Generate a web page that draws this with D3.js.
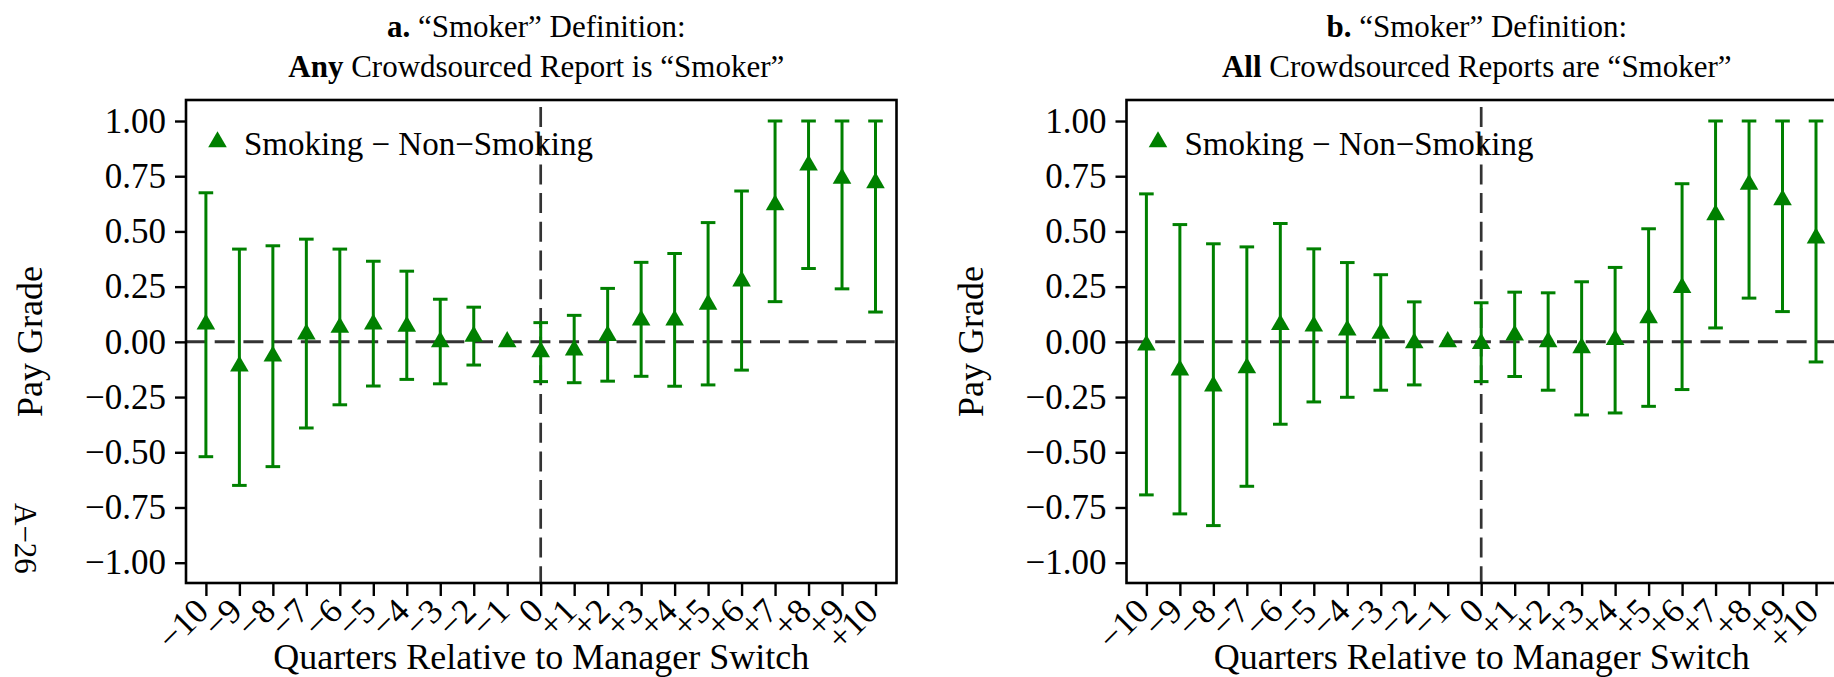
<!DOCTYPE html>
<html>
<head>
<meta charset="utf-8">
<script src="https://cdn.jsdelivr.net/npm/d3@7"></script>
<style>
  html, body { margin: 0; padding: 0; background: #ffffff; }
  svg { display: block; }
</style>
</head>
<body>
<svg id="chart" width="1834" height="677"></svg>
<script>
// Quarters relative to the manager switch and their axis labels
const quarters = [-10, -9, -8, -7, -6, -5, -4, -3, -2, -1, 0, 1, 2, 3, 4, 5, 6, 7, 8, 9, 10];
const quarterLabels = ["\u221210", "\u22129", "\u22128", "\u22127", "\u22126", "\u22125", "\u22124", "\u22123", "\u22122", "\u22121", "0",
                       "+1", "+2", "+3", "+4", "+5", "+6", "+7", "+8", "+9", "+10"];
const yTicks = [-1.00, -0.75, -0.50, -0.25, 0.00, 0.25, 0.50, 0.75, 1.00];

// Panel a: any crowdsourced report is "Smoker" (quarter -1 is the omitted reference)
const estimateA = [0.08, -0.11, -0.065, 0.035, 0.065, 0.08, 0.07, 0.0, 0.025, 0.0, -0.045, -0.037, 0.028, 0.098, 0.098, 0.17, 0.275, 0.62, 0.80, 0.74, 0.72];
const lowerA    = [-0.52, -0.65, -0.565, -0.39, -0.285, -0.20, -0.17, -0.19, -0.105, null, -0.18, -0.185, -0.178, -0.156, -0.201, -0.195, -0.128, 0.182, 0.332, 0.24, 0.135];
const upperA    = [0.675, 0.42, 0.435, 0.465, 0.42, 0.365, 0.32, 0.193, 0.157, null, 0.087, 0.12, 0.242, 0.36, 0.40, 0.54, 0.683, 1.0, 1.0, 1.0, 1.0];

// Panel b: all crowdsourced reports are "Smoker"
const estimateB = [-0.015, -0.128, -0.20, -0.118, 0.078, 0.071, 0.053, 0.038, -0.005, 0.0, -0.008, 0.03, 0.0, -0.027, 0.01, 0.109, 0.245, 0.575, 0.713, 0.643, 0.47];
const lowerB    = [-0.693, -0.779, -0.832, -0.654, -0.373, -0.272, -0.251, -0.219, -0.195, null, -0.18, -0.157, -0.219, -0.331, -0.322, -0.292, -0.216, 0.063, 0.198, 0.137, -0.091];
const upperB    = [0.67, 0.531, 0.444, 0.43, 0.536, 0.421, 0.359, 0.304, 0.181, null, 0.177, 0.225, 0.222, 0.272, 0.337, 0.512, 0.716, 1.0, 1.0, 1.0, 1.0];

const panels = [
  { letter: "a.", strong: "Any", rest: " Crowdsourced Report is \u201cSmoker\u201d", est: estimateA, lo: lowerA, hi: upperA, dx: 0 },
  { letter: "b.", strong: "All", rest: " Crowdsourced Reports are \u201cSmoker\u201d", est: estimateB, lo: lowerB, hi: upperB, dx: 940.5 }
];

const legendLabel = "Smoking \u2212 Non\u2212Smoking";
const xTitle = "Quarters Relative to Manager Switch";
const yTitle = "Pay Grade";
const pageMark = "A\u221226";

const SERIF = "'Liberation Serif', 'Times New Roman', Times, serif";
const GREEN = "#008000";
const DASH = "#333333";

const svg = d3.select("#chart");
svg.append("rect").attr("width", 1834).attr("height", 677).attr("fill", "#fff");

// plot region of one panel
const box = { left: 186, right: 896.5, top: 100, bottom: 583 };
const x = d3.scaleLinear().domain([-10, 10]).range([205.9, 875.5]);
const y = d3.scaleLinear().domain([-1, 1]).range([562.7, 121]);
const tri = d3.symbol().type(d3.symbolTriangle).size(150);

function serif(sel, size) {
  return sel.style("font-family", SERIF).style("font-size", size + "px").style("fill", "#000");
}

panels.forEach(p => {
  const g = svg.append("g").attr("transform", `translate(${p.dx},0)`);

  // title, two lines
  const cx = (box.left + box.right) / 2 - 5;
  const t1 = serif(g.append("text").attr("x", cx).attr("y", 37).attr("text-anchor", "middle"), 31);
  t1.append("tspan").attr("font-weight", "bold").text(p.letter);
  t1.append("tspan").text(" \u201cSmoker\u201d Definition:");
  const t2 = serif(g.append("text").attr("x", cx).attr("y", 77).attr("text-anchor", "middle"), 31);
  t2.append("tspan").attr("font-weight", "bold").text(p.strong);
  t2.append("tspan").text(p.rest);

  // reference lines
  g.append("line")
    .attr("x1", box.left).attr("x2", box.right)
    .attr("y1", y(0)).attr("y2", y(0))
    .attr("stroke", DASH).attr("stroke-width", 3)
    .attr("stroke-dasharray", "20,8.7");
  g.append("line")
    .attr("x1", x(0)).attr("x2", x(0))
    .attr("y1", box.top).attr("y2", box.bottom)
    .attr("stroke", DASH).attr("stroke-width", 2.7)
    .attr("stroke-dasharray", "20,8.7").attr("stroke-dashoffset", 21.7);

  // confidence intervals
  const rows = quarters.map((q, i) => ({ q, est: p.est[i], lo: p.lo[i], hi: p.hi[i] }));
  const bars = g.append("g").attr("stroke", GREEN).attr("stroke-width", 3).attr("fill", "none");
  rows.filter(d => d.lo !== null).forEach(d => {
    bars.append("line").attr("x1", x(d.q)).attr("x2", x(d.q)).attr("y1", y(d.lo)).attr("y2", y(d.hi));
    bars.append("line").attr("x1", x(d.q) - 7.3).attr("x2", x(d.q) + 7.3).attr("y1", y(d.lo)).attr("y2", y(d.lo));
    bars.append("line").attr("x1", x(d.q) - 7.3).attr("x2", x(d.q) + 7.3).attr("y1", y(d.hi)).attr("y2", y(d.hi));
  });

  // point estimates
  g.append("g").selectAll("path").data(rows).join("path")
    .attr("d", tri)
    .attr("transform", d => `translate(${x(d.q)},${y(d.est)})`)
    .attr("fill", GREEN);

  // frame
  g.append("rect")
    .attr("x", box.left).attr("y", box.top)
    .attr("width", box.right - box.left).attr("height", box.bottom - box.top)
    .attr("fill", "none").attr("stroke", "#000").attr("stroke-width", 2.6);

  // y axis
  const ya = g.append("g").attr("transform", `translate(${box.left},0)`)
    .call(d3.axisLeft(y).tickValues(yTicks).tickSize(11).tickSizeOuter(0).tickPadding(9)
      .tickFormat(v => d3.format(".2f")(v).replace("-", "\u2212")));
  ya.attr("font-family", null).attr("font-size", null);
  ya.select(".domain").remove();
  ya.selectAll(".tick line").attr("stroke", "#000").attr("stroke-width", 2.4);
  serif(ya.selectAll(".tick text"), 35);

  // x axis with slanted labels
  const xa = g.append("g").attr("transform", `translate(0,${box.bottom})`)
    .call(d3.axisBottom(x).tickValues(quarters).tickSize(13).tickSizeOuter(0)
      .tickFormat((v, i) => quarterLabels[i]));
  xa.attr("font-family", null).attr("font-size", null);
  xa.select(".domain").remove();
  xa.selectAll(".tick line").attr("stroke", "#000").attr("stroke-width", 2.4);
  serif(xa.selectAll(".tick text"), 35)
    .attr("text-anchor", "end")
    .attr("x", 0).attr("y", 0).attr("dy", 0)
    .attr("transform", "translate(4,30) rotate(-45)");

  // axis titles
  serif(g.append("text").attr("x", (box.left + box.right) / 2).attr("y", 669)
    .attr("text-anchor", "middle"), 36).text(xTitle);
  serif(g.append("text").attr("transform", `translate(42,${(box.top + box.bottom) / 2}) rotate(-90)`)
    .attr("text-anchor", "middle"), 36).text(yTitle);

  // legend
  g.append("path").attr("d", tri).attr("transform", "translate(217.5,142)").attr("fill", GREEN);
  serif(g.append("text").attr("x", 244).attr("y", 155), 33).text(legendLabel);
});

// page number printed sideways at the left margin
serif(svg.append("text").attr("transform", "translate(15,503) rotate(90)"), 31).text(pageMark);
</script>
</body>
</html>
